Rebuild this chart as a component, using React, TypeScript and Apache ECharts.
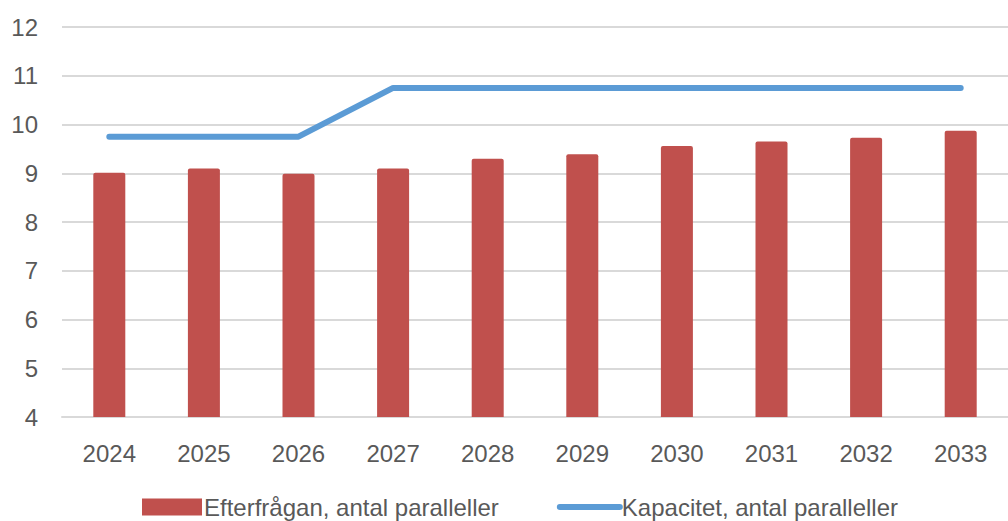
import React, { useEffect, useRef } from "react";
import * as echarts from "echarts";

const years = ["2024", "2025", "2026", "2027", "2028", "2029", "2030", "2031", "2032", "2033"];
const demand = [9.01, 9.1, 8.99, 9.1, 9.3, 9.39, 9.56, 9.65, 9.73, 9.87];
const capacity = [9.75, 9.75, 9.75, 10.75, 10.75, 10.75, 10.75, 10.75, 10.75, 10.75];
const demandName = "Efterfrågan, antal paralleller";
const capacityName = "Kapacitet, antal paralleller";

const FONT = "Liberation Sans, sans-serif";

export default function App() {
  const ref = useRef<HTMLDivElement>(null);
  useEffect(() => {
    if (!ref.current) return;
    const chart = echarts.init(ref.current, null, { renderer: "svg" });
    chart.setOption({
      animation: false,
      textStyle: { fontFamily: FONT },
      grid: { left: 62, right: -7, top: 27, bottom: 104, containLabel: false },
      legend: {
        bottom: -3,
        left: 137,
        itemGap: 58,
        itemWidth: 60,
        itemHeight: 17,
        textStyle: { fontSize: 24, color: "#595959", fontFamily: FONT, padding: [0, 0, 0, -3] },
        data: [
          { name: demandName, icon: "rect" },
          {
            name: capacityName,
            itemStyle: { opacity: 0 },
            lineStyle: { width: 6, color: "#5b9bd5", cap: "round" },
          },
        ],
      },
      xAxis: {
        type: "category",
        data: years,
        axisLine: { lineStyle: { color: "#d9d9d9", width: 2 } },
        axisTick: { show: false },
        axisLabel: { color: "#595959", fontSize: 24, margin: 24, fontFamily: FONT },
      },
      yAxis: {
        type: "value",
        min: 4,
        max: 12,
        interval: 1,
        axisLine: { show: false },
        axisTick: { show: false },
        axisLabel: { color: "#595959", fontSize: 24, margin: 24, fontFamily: FONT },
        splitLine: { lineStyle: { color: "#d9d9d9", width: 2 } },
      },
      series: [
        {
          name: demandName,
          type: "bar",
          data: demand,
          barWidth: 32,
          itemStyle: { color: "#c0504d", borderRadius: [2, 2, 0, 0] },
        },
        {
          name: capacityName,
          type: "line",
          data: capacity,
          symbol: "none",
          lineStyle: { color: "#5b9bd5", width: 6, cap: "round", join: "round" },
          itemStyle: { color: "#5b9bd5" },
        },
      ],
    });
    return () => chart.dispose();
  }, []);
  return (
    <div
      ref={ref}
      style={{ position: "fixed", left: 0, top: 0, width: 1008, height: 521, background: "#fff" }}
    />
  );
}
